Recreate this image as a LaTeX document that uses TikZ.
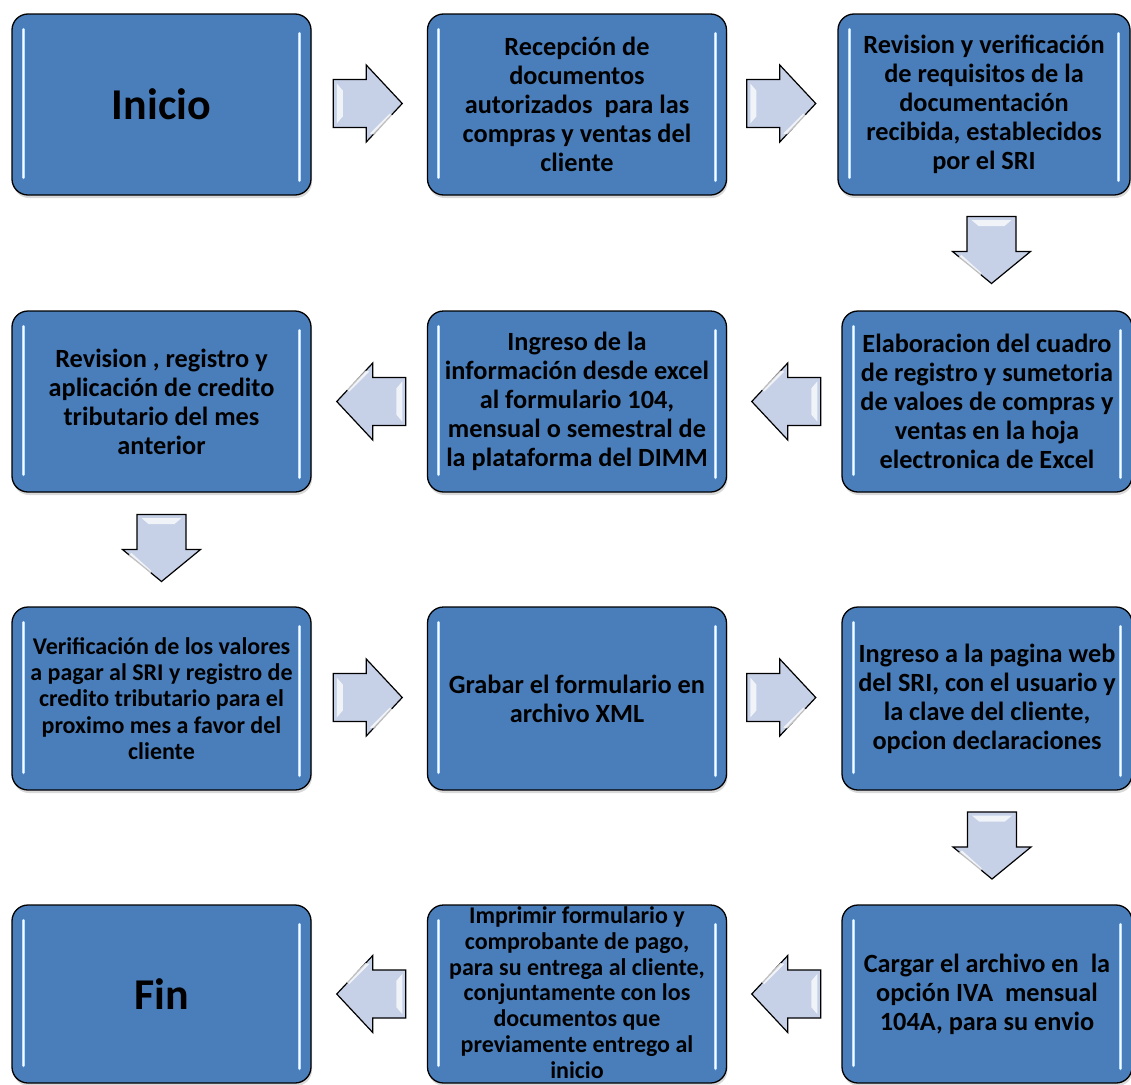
\documentclass[tikz,border=0pt]{standalone}
\usepackage{fontspec}
\setmainfont{Carlito}
\usetikzlibrary{shadows,calc}
\definecolor{boxblue}{RGB}{74,126,187}
\definecolor{boxedge}{RGB}{98,146,204}
\definecolor{arrowc}{RGB}{198,209,231}
\definecolor{glow}{RGB}{185,222,255}
\tikzset{
  flowbox/.style={draw=black, line width=1.3pt, fill=boxblue, rounded corners=16pt,
    align=center, inner sep=0pt, font=\bfseries\fontsize{26.3}{29}\selectfont,
    drop shadow={shadow xshift=1pt, shadow yshift=-3pt, opacity=0.3}},
  colw/.style={minimum width=299pt},
  rightw/.style={minimum width=290pt},
  rowh/.style={minimum height=181pt},
  smalltext/.style={font=\bfseries\fontsize{24}{26.3}\selectfont},
  tighttext/.style={font=\bfseries\fontsize{24}{25.8}\selectfont},
  bigtext/.style={font=\bfseries\fontsize{44}{50}\selectfont},
  hlglow/.style={glow, line width=3.2pt, line cap=round},
  hlcore/.style={white, line width=1.1pt, line cap=round},
  arrowsty/.style={draw=black, line width=1.2pt, fill=arrowc, line join=miter},
  glint/.style={fill=white, opacity=0.75, draw=none},
  rarr/.pic={
    \draw[arrowsty] (-34.5,-24) -- (-1.5,-24) -- (-1.5,-38.5) -- (34.5,0) -- (-1.5,38.5) -- (-1.5,24) -- (-34.5,24) -- cycle;
    \fill[glint] (-31,-20) -- (-25,-13) -- (-25,13) -- (-31,20) -- cycle;
    \fill[glint] (2,30) -- (22,10) -- (25,12) -- (6,31) -- cycle;
  },
  larr/.pic={
    \draw[arrowsty] (34.5,-24) -- (1.5,-24) -- (1.5,-38.5) -- (-34.5,0) -- (1.5,38.5) -- (1.5,24) -- (34.5,24) -- cycle;
    \fill[glint] (31,-20) -- (25,-13) -- (25,13) -- (31,20) -- cycle;
    \fill[glint] (-2,-30) -- (-22,-10) -- (-25,-12) -- (-6,-31) -- cycle;
  },
  darr/.pic={
    \draw[arrowsty] (-24.5,-33.5) -- (24.5,-33.5) -- (24.5,1.5) -- (39,1.5) -- (0,33.5) -- (-39,1.5) -- (-24.5,1.5) -- cycle;
    \fill[glint] (-20,-30) -- (20,-30) -- (13,-24) -- (-13,-24) -- cycle;
    \fill[glint] (-30,5) -- (-10,23) -- (-12,27) -- (-33,7) -- cycle;
  }
}
\begin{document}
\begin{tikzpicture}[x=1pt,y=-1pt]
\useasboundingbox (0,0) rectangle (1131,1084);

% row 1
\node[flowbox, colw, rowh, bigtext] (inicio) at (161.5,104.5) {Inicio};
\node[flowbox, colw, rowh] (recep) at (577,104.5) {Recepción de\\documentos\\autorizados\ \ para las\\compras y ventas del\\cliente};
\node[flowbox, minimum width=292pt, rowh] (revis) at (984,104.5) {Revision y verificación\\de requisitos de la\\documentación\\recibida, establecidos\\por el SRI};
% row 2
\node[flowbox, rightw, rowh] (elab) at (987,401.5) {Elaboracion del cuadro\\de registro y sumetoria\\de valoes de compras y\\ventas en la hoja\\electronica de Excel};
\node[flowbox, colw, rowh] (ingreso) at (577,401.5) {Ingreso de la\\información desde excel\\al formulario 104,\\mensual o semestral de\\la plataforma del DIMM};
\node[flowbox, colw, rowh] (credito) at (161.5,401.5) {Revision , registro y\\aplicación de credito\\tributario del mes\\anterior};
% row 3
\node[flowbox, colw, minimum height=183pt, smalltext] (verif) at (161.5,698.5) {Verificación de los valores\\a pagar al SRI y registro de\\credito tributario para el\\proximo mes a favor del\\cliente};
\node[flowbox, colw, minimum height=183pt] (grabar) at (577,698.5) {Grabar el formulario en\\archivo XML};
\node[flowbox, rightw, minimum height=183pt] (web) at (987,698.5) {Ingreso a la pagina web\\del SRI, con el usuario y\\la clave del cliente,\\opcion declaraciones};
% row 4
\node[flowbox, rightw, minimum height=178pt] (cargar) at (987,994) {Cargar el archivo en\ \ la\\opción IVA\ \ mensual\\104A, para su envio};
\node[flowbox, colw, minimum height=178pt,
  label={[tighttext, align=center, inner sep=0pt, yshift=1.5pt]center:Imprimir formulario y\\comprobante de pago,\\para su entrega al cliente,\\conjuntamente con los\\documentos que\\previamente entrego al\\inicio}] (imprimir) at (577,994) {};
\node[flowbox, colw, minimum height=178pt, bigtext] (fin) at (161.5,994) {Fin};

% highlights
\foreach \n in {inicio,recep,revis,elab,ingreso,credito,verif,grabar,web,cargar,imprimir,fin}{
  \draw[hlglow] ($(\n.north west)+(12,16)$) -- ($(\n.south west)+(12,-18)$);
  \draw[hlcore] ($(\n.north west)+(12,16)$) -- ($(\n.south west)+(12,-18)$);
  \draw[hlglow] ($(\n.north east)+(-12,20)$) -- ($(\n.south east)+(-12,-15)$);
  \draw[hlcore] ($(\n.north east)+(-12,20)$) -- ($(\n.south east)+(-12,-15)$);
}

% connectors
\pic (c1) at ($(inicio.east)!0.5!(recep.west)+(-1.5,-1)$) {rarr};
\pic (c2) at ($(recep.east)!0.5!(revis.west)+(-1,-1)$) {rarr};
\pic (c3) at ($(revis.south)!0.5!(elab.north)+(6,-3)$) {darr};
\pic (c4) at ($(elab.west)!0.5!(ingreso.east)+(2,0)$) {larr};
\pic (c5) at ($(ingreso.west)!0.5!(credito.east)+(2,0)$) {larr};
\pic (c6) at ($(credito.south)!0.5!(verif.north)+(0,-1.5)$) {darr};
\pic (c7) at ($(verif.east)!0.5!(grabar.west)+(-1.5,-1)$) {rarr};
\pic (c8) at ($(grabar.east)!0.5!(web.west)+(-3,-1)$) {rarr};
\pic (c9) at ($(web.south)!0.5!(cargar.north)+(5,-2)$) {darr};
\pic (c10) at ($(cargar.west)!0.5!(imprimir.east)+(2,0)$) {larr};
\pic (c11) at ($(imprimir.west)!0.5!(fin.east)+(2,0)$) {larr};
\end{tikzpicture}
\end{document}
